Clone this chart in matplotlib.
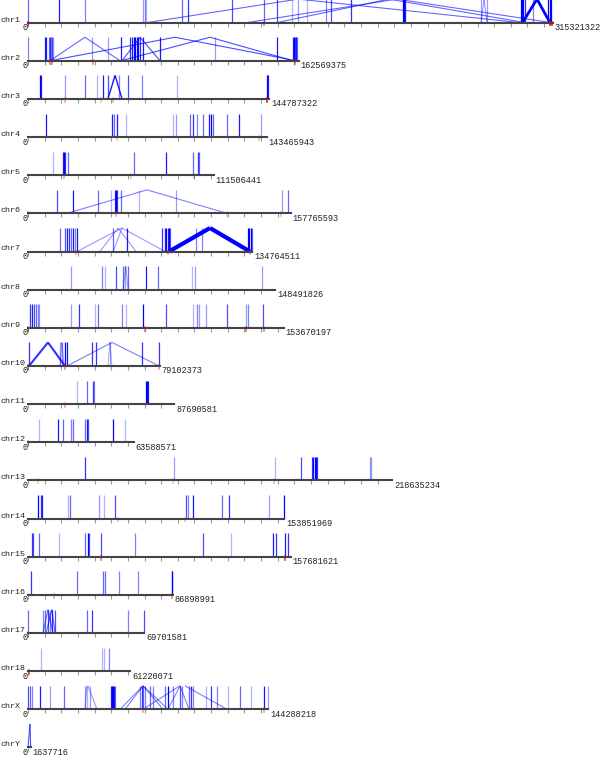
import numpy as np
import matplotlib
matplotlib.use("Agg")
import matplotlib.pyplot as plt

# chromosome names and lengths (bp)
names = ["chr1", "chr2", "chr3", "chr4", "chr5", "chr6", "chr7", "chr8", "chr9", "chr10",
         "chr11", "chr12", "chr13", "chr14", "chr15", "chr16", "chr17", "chr18", "chrX", "chrY"]
lengths = [315321322, 162569375, 144787322, 143465943, 111506441, 157765593, 134764511,
           148491826, 153670197, 79102373, 87690581, 63588571, 218635234, 153851969,
           157681621, 86898991, 69701581, 61220071, 144288218, 1637716]

# breakpoints: (position in Mb, intensity)
events = {
    "chr1": [(0, .6), (18.4, .9), (34.2, .5), (69.1, .4), (70.0, .5), (71.0, .3), (92.5, .6),
             (96.1, .8), (122.5, .7), (141.7, .6), (149.5, .7), (158.6, .3), (162.2, .4),
             (167.6, .3), (179.0, .5), (182.0, .7), (194.0, .8), (225.3, 1), (225.9, 1),
             (226.5, .9), (272.1, .4), (275.7, .4), (296.4, 1), (297.0, 1), (297.6, 1),
             (298.3, .8), (303.3, .5), (312.3, 1), (313.3, 1), (314.1, 1)],
    "chr2": [(0, .5), (10.0, .9), (10.8, .9), (12.6, .6), (13.2, .8), (13.8, .5), (14.4, .7),
             (15.0, .4), (38.4, .4), (48.0, .4), (55.9, .9), (61.3, .8), (62.5, .9), (63.7, 1),
             (64.3, 1), (65.5, .9), (66.1, 1), (67.3, .8), (69.1, .9), (79.3, .9), (112.3, .4),
             (149.5, .9), (159.0, .9), (159.6, 1), (160.2, .8), (160.8, .9), (161.6, .6)],
    "chr3": [(7.0, 1), (7.6, .9), (22.2, .4), (34.2, .6), (41.4, .3), (45.0, .9), (48.0, .7),
             (54.7, .5), (60.1, .7), (68.5, .5), (89.5, .3), (143.3, 1), (144.3, .9)],
    "chr4": [(10.8, .9), (50.5, .9), (51.7, .6), (53.5, .9), (58.9, .3), (87.1, .3), (88.9, .4),
             (97.3, .6), (99.1, .8), (101.5, .5), (105.1, .6), (108.7, .9), (109.9, 1),
             (111.1, .6), (119.5, .6), (126.7, .9), (139.9, .4)],
    "chr5": [(15.0, .3), (21.0, .9), (21.6, 1), (22.2, .8), (24.0, .6), (63.7, .6), (82.9, .9),
             (99.1, .6), (102.1, .8), (102.7, .6)],
    "chr6": [(17.4, .7), (27.0, .9), (42.0, .6), (49.8, .3), (52.3, .9), (53.0, 1), (53.5, .8),
             (55.9, .6), (66.7, .3), (88.9, .4), (152.6, .4), (156.2, .6)],
    "chr7": [(19.2, .6), (22.2, .7), (23.4, .9), (24.6, .8), (25.8, .6), (27.0, .9), (28.2, .5),
             (29.4, .9), (51.1, .6), (59.5, .9), (80.5, .8), (82.3, .9), (83.1, 1), (83.9, .9),
             (84.7, 1), (85.5, .7), (100.9, .5), (104.5, .5), (132.1, 1), (132.9, 1),
             (133.7, 1), (134.3, .6)],
    "chr8": [(25.8, .4), (44.4, .5), (46.2, .3), (52.9, .7), (57.1, .6), (58.3, .4), (60.1, .6),
             (70.9, .9), (78.1, .6), (98.5, .3), (100.3, .4), (140.5, .4)],
    "chr9": [(1.2, .8), (2.4, .9), (3.6, .7), (4.8, .6), (6.0, .5), (6.6, .4), (25.8, .4),
             (30.6, .8), (40.2, .3), (42.0, .6), (56.5, .5), (58.9, .3), (69.1, 1), (82.9, .7),
             (99.1, .3), (101.5, .5), (102.7, .4), (106.9, .4), (119.5, .7), (130.9, .4),
             (132.1, .5), (141.1, .7)],
    "chr10": [(0.6, .8), (19.2, .4), (20.4, .4), (22.2, 1), (23.4, .9), (38.4, .8), (40.8, .8),
              (49.2, .4), (68.5, .8), (78.7, .8)],
    "chr11": [(29.4, .3), (35.4, .6), (39.0, .8), (39.6, .5), (70.9, 1), (71.5, 1), (72.1, .9)],
    "chr12": [(6.6, .3), (18.0, .9), (21.0, .6), (25.8, .5), (27.0, .6), (34.2, .6), (35.4, .9),
              (36.0, .7), (51.1, 1), (58.3, .3)],
    "chr13": [(34.2, .8), (87.7, .4), (148.3, .3), (164.0, .7), (170.6, .8), (171.4, 1),
              (172.2, 1), (173.0, 1), (173.6, .8), (205.7, .4), (206.3, .4)],
    "chr14": [(6.0, 1), (7.8, .8), (8.4, .9), (24.0, .3), (25.2, .6), (42.6, .4), (45.6, .3),
              (52.3, .7), (94.9, .7), (96.1, .5), (99.1, .9), (116.5, .6), (120.7, .8),
              (144.7, .4), (153.8, 1)],
    "chr15": [(2.4, .8), (3.0, .7), (6.6, .6), (18.6, .3), (34.2, .6), (36.0, 1), (36.6, .7),
              (43.8, .7), (64.3, .5), (105.1, .7), (121.9, .3), (147.1, .9), (148.9, .8),
              (154.4, .9), (156.2, .8)],
    "chr16": [(1.8, .8), (29.4, .6), (45.0, .6), (46.2, .6), (54.7, .5), (66.1, .5), (86.2, 1),
              (86.7, .8)],
    "chr17": [(0.2, .6), (9.0, .5), (10.2, .6), (12.0, .7), (13.2, .5), (14.4, .8), (16.2, .7),
              (35.4, .6), (38.4, .8), (60.1, .5), (69.5, .7)],
    "chr18": [(7.8, .3), (44.4, .3), (45.6, .3), (48.6, .5)],
    "chrX": [(0.2, .7), (1.2, .6), (2.4, .5), (7.2, .9), (13.2, .4), (21.6, .6), (34.2, .4),
             (35.4, .3), (37.2, .4), (49.8, .9), (50.5, 1), (51.1, 1), (51.7, .9), (52.3, .6),
             (67.3, .5), (68.5, .8), (69.1, .6), (70.3, .5), (73.3, .6), (75.1, .5), (82.3, .6),
             (84.1, 1), (87.1, .5), (91.3, .7), (92.5, .5), (96.7, .6), (97.9, .8), (99.1, .5),
             (106.9, .3), (109.9, .8), (113.5, .5), (120.1, .3), (127.3, .6), (133.9, .3),
             (141.7, .9), (144.1, .4)],
    "chrY": [],
}

# links: (bottom Mb, top Mb, intensity, width)
links = {
    "chr1": [(71.5, 162.2, .6, .8), (295.5, 162.2, .6, .8), (131.5, 221.6, .6, .8),
             (314.1, 221.6, .6, .8), (149.5, 216.8, .6, .8), (298.5, 216.8, .6, .8),
             (272.1, 273.9, .4, .8), (275.7, 273.9, .4, .8),
             (297.0, 305.7, 1, 2), (313.5, 305.7, 1, 2)],
    "chr2": [(13.2, 34.2, .6, .8), (55.3, 34.2, .6, .8), (13.2, 88.3, .7, .8),
             (161.0, 88.3, .7, .8), (55.9, 109.3, .7, .8), (159.2, 109.3, .7, .8),
             (56.5, 67.3, .7, .8), (79.3, 67.3, .7, .8)],
    "chr3": [(48.0, 52.3, .9, 1), (56.5, 52.3, .9, 1)],
    "chr6": [(23.4, 71.5, .5, .8), (119.5, 71.5, .5, .8)],
    "chr7": [(29.4, 56.5, .4, .8), (82.3, 56.5, .4, .8), (43.2, 54.1, .4, .8),
             (64.9, 54.1, .4, .8), (51.1, 56.5, .4, .8),
             (84.7, 109.3, 1, 3), (133.3, 109.3, 1, 3)],
    "chr8": [(57.1, 58.7, .4, .8), (60.1, 58.7, .4, .8)],
    "chr10": [(0.6, 12.0, .8, 1.5), (22.2, 12.0, .8, 1.5), (23.4, 50.5, .5, .8),
              (78.7, 50.5, .5, .8), (48.0, 49.2, .3, .8), (50.4, 49.2, .3, .8),
              (19.2, 20.4, .4, .8), (21.6, 20.4, .4, .8)],
    "chr17": [(9.0, 12.0, .6, .8), (15.0, 12.0, .6, .8), (10.8, 14.4, .6, .8),
              (16.2, 14.4, .6, .8)],
    "chrX": [(34.2, 35.4, .4, .8), (41.4, 36.0, .4, .8), (55.3, 69.1, .5, .8),
             (58.3, 69.1, .5, .8), (81.1, 69.1, .5, .8), (84.1, 69.1, .5, .8),
             (69.1, 91.3, .5, .8), (84.1, 91.3, .5, .8), (96.7, 91.3, .5, .8),
             (119.5, 94.3, .5, .8)],
    "chrY": [(0.0, 1.2, .7, .8), (1.6, 1.2, .7, .8)],
}

# red marks on the baseline (Mb, intensity)
red_marks = {
    "chr1": [(0, .8), (141.7, .6), (313.5, 1), (314.5, 1)],
    "chr2": [(13.5, .6), (14.4, .6), (39.0, .5), (160.5, .6)],
    "chr3": [(22.2, .4), (44.0, .3), (51.0, .3), (143.8, .9)],
    "chr4": [(53.5, .3), (139.0, .3)],
    "chr5": [(21.6, .4), (62.0, .3), (100.0, .3)],
    "chr6": [(0, .4), (53.0, .4), (119.5, .3), (152.0, .3)],
    "chr7": [(29.0, .4), (84.0, .5), (133.5, .4)],
    "chr9": [(0, .6), (70.0, .5), (131.0, .6), (142.0, .5)],
    "chr10": [(0, .5), (22.5, .5), (78.7, .4)],
    "chr11": [(22.0, .4)],
    "chr12": [(0, .4)],
    "chr13": [(6.0, .3), (87.0, .3), (148.0, .3)],
    "chr14": [(54.0, .3), (94.0, .3)],
    "chr15": [(43.8, .6), (154.4, .8)],
    "chr16": [(15.6, .4), (86.5, .5)],
    "chr17": [(0, .4)],
    "chr18": [(0.5, .7)],
    "chrX": [(69.1, .4), (141.7, .4)],
}

W, H = 600, 757
fig = plt.figure(figsize=(W / 100, H / 100), dpi=100)
font = "Liberation Mono"

x0 = 28.0
px_per_mb = 525.0 / (lengths[0] / 1e6)
row_h = 23.5

for i, name in enumerate(names):
    L = lengths[i] / 1e6
    base = 22.6 + i * 38.15
    w = L * px_per_mb
    ax = fig.add_axes([x0 / W, 1 - base / H, w / W, row_h / H])
    ax.set_xlim(0, L)
    ax.set_ylim(0, 1)
    for s in ["top", "left", "right"]:
        ax.spines[s].set_visible(False)
    ax.spines["bottom"].set_color("#444444")
    ax.spines["bottom"].set_linewidth(1.5)
    ax.set_facecolor("none")
    ax.set_yticks([])
    ax.set_xticks(np.arange(0, L, 10))
    ax.tick_params(axis="x", direction="out", length=3, width=0.8, color="#999999",
                   labelbottom=False)

    for pos, a in events.get(name, []):
        ax.vlines(pos, 0, 1, colors=[(0, 0, 1, a)], lw=0.9, clip_on=False)
    for b, t, a, lw in links.get(name, []):
        ax.plot([b, t], [0, 1], color=(0, 0, 1, a), lw=lw, clip_on=False,
                solid_capstyle="butt")
    for pos, a in red_marks.get(name, []):
        ax.plot([pos, pos], [-0.12, 0.04], color=(1, 0, 0, a), lw=1.2, clip_on=False)

    fig.text(0.5 / W, 1 - (base - 2.5) / H, name, fontsize=6.0, family=font,
             ha="left", va="center", color="#222222")
    ax.annotate("0", xy=(0, 0), xycoords="data", xytext=(-2.5, -5),
                textcoords="offset pixels", fontsize=6.2, family=font,
                ha="center", va="center", color="#222222", annotation_clip=False)
    ax.annotate(str(lengths[i]), xy=(L, 0), xycoords="data", xytext=(2, -5),
                textcoords="offset pixels", fontsize=6.2, family=font,
                ha="left", va="center", color="#222222", annotation_clip=False)

fig.savefig("out.png", dpi=100)
